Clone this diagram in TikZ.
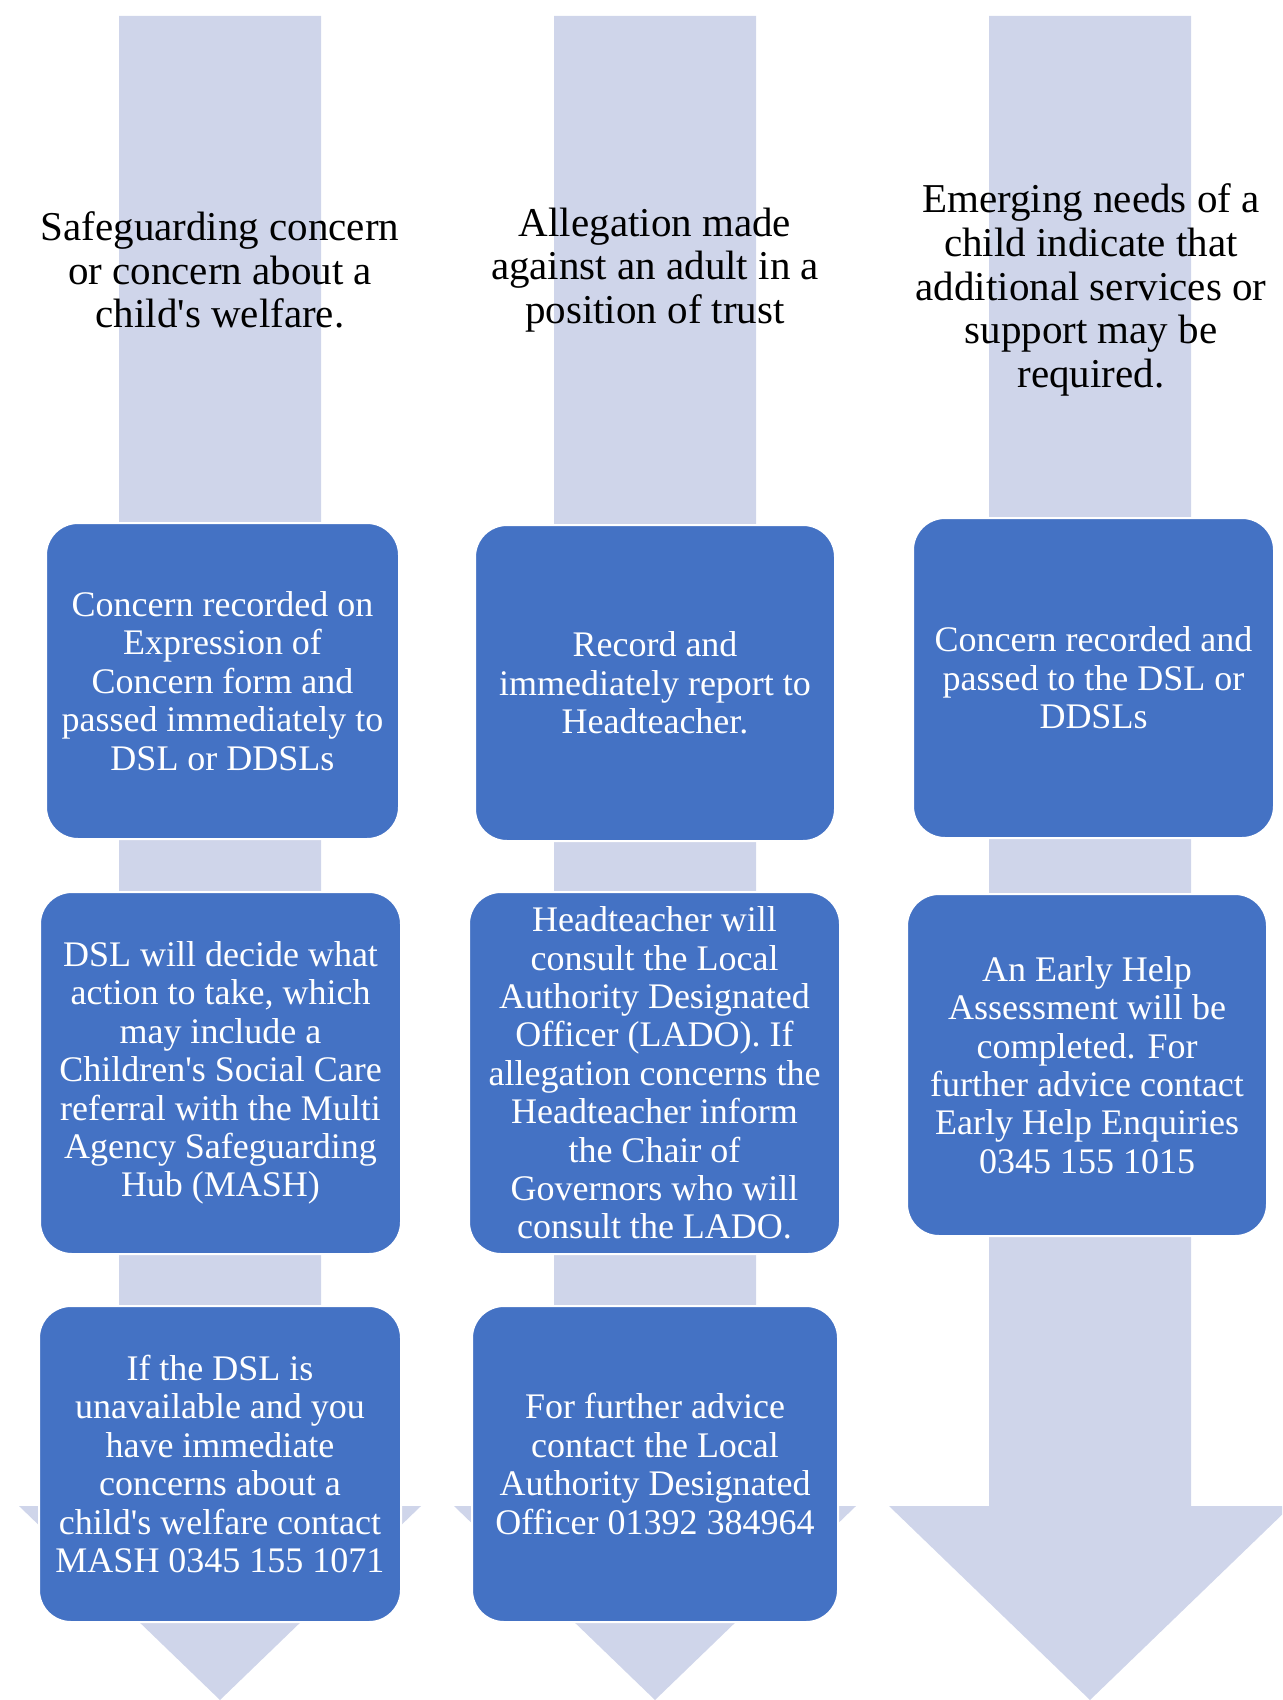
\documentclass[tikz,border=0pt]{standalone}
\usepackage{fontspec}
\setmainfont{Liberation Serif}
\definecolor{shaft}{HTML}{CFD5EA}
\definecolor{boxblue}{HTML}{4472C4}

\begin{document}
\begin{tikzpicture}[x=0.5pt,y=-0.5pt,
        box/.style={fill=boxblue, draw=white, line width=1pt, rounded corners=16pt, text=white, align=center, inner sep=0pt, font=\fontsize{18}{19.2}\selectfont},
        head/.style={align=center, inner sep=0pt, font=\fontsize{20.5}{21.8}\selectfont}]
        \clip (0,0) rectangle (1282,1700);
        \foreach \c in {220,655,1090}
            \fill[shaft] ({\c-101},16) -- ({\c+101},16) -- ({\c+101},1506) -- ({\c+201},1506) -- (\c,1700) -- ({\c-201},1506) -- ({\c-101},1506) -- cycle;

        \node[head] (top1) at (220,270) {Safeguarding concern\\or concern about a\\child\textquotesingle s welfare.};
        \node[head] (top2) at (655,270) {Allegation made\\against an adult in a\\position of trust};
        \node[head] (top3) at (1091,290) {Emerging needs of a\\child indicate that\\additional services or\\support may be\\required.};

        \node[box, minimum width=176.5pt, minimum height=158pt] (rec1) at (222.5,681) {Concern recorded on\\Expression of\\Concern form and\\passed immediately to\\DSL or DDSLs};
        \node[box, minimum width=180pt, minimum height=158pt] (rec2) at (655,683) {Record and\\immediately report to\\Headteacher.};
        \node[box, minimum width=180.5pt, minimum height=160pt] (rec3) at (1093.5,678) {Concern recorded and\\passed to the DSL or\\DDSLs};

        \node[box, minimum width=180.5pt, minimum height=181pt] (act1) at (220.5,1073) {DSL will decide what\\action to take, which\\may include a\\Children\textquotesingle s Social Care\\referral with the Multi\\Agency Safeguarding\\Hub (MASH)};
        \node[box, minimum width=185.5pt, minimum height=181pt] (act2) at (654.5,1073) {Headteacher will\\consult the Local\\Authority Designated\\Officer (LADO). If\\allegation concerns the\\Headteacher inform\\the Chair of\\Governors who will\\consult the LADO.};
        \node[box, minimum width=180pt, minimum height=171pt] (act3) at (1087,1065) {An Early Help\\Assessment will be\\completed. For\\further advice contact\\Early Help Enquiries\\0345 155 1015};

        \node[box, minimum width=181pt, minimum height=158pt] (adv1) at (220,1464) {If the DSL is\\unavailable and you\\have immediate\\concerns about a\\child\textquotesingle s welfare contact\\MASH 0345 155 1071};
        \node[box, minimum width=183pt, minimum height=158pt] (adv2) at (655,1464) {For further advice\\contact the Local\\Authority Designated\\Officer 01392 384964};

    \end{tikzpicture}
\end{document}
